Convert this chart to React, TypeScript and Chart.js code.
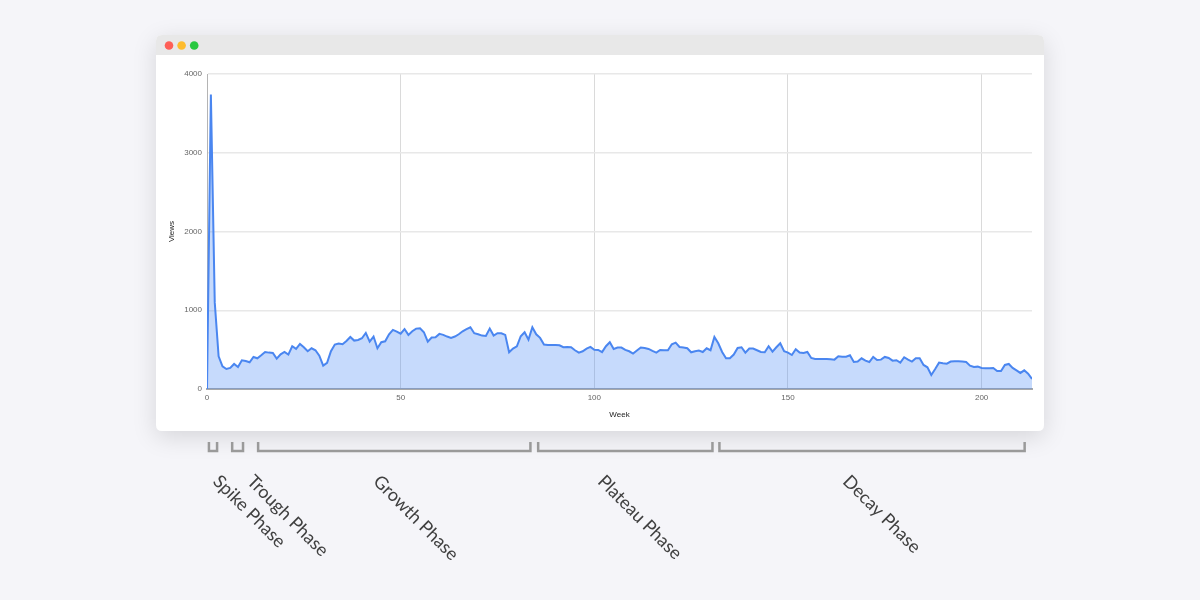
import React, { useEffect, useRef } from "react";
import { Chart, registerables } from "chart.js";

Chart.register(...registerables);

// Weekly views (week 0 .. 213)
const views: number[] = [
  0, 3740, 1100, 415, 288, 254, 267, 318, 280, 365,
  356, 339, 407, 390, 428, 470, 462, 458, 386, 441,
  470, 437, 543, 509, 572, 530, 479, 517, 492, 424,
  297, 331, 479, 564, 577, 568, 610, 661, 615, 623,
  644, 712, 602, 666, 517, 594, 606, 695, 750, 729,
  702, 761, 687, 733, 767, 772, 721, 602, 653, 657,
  700, 687, 666, 649, 666, 695, 733, 759, 784, 708,
  695, 678, 674, 767, 678, 708, 708, 687, 466, 513,
  543, 670, 721, 627, 784, 695, 649, 564, 560, 560,
  560, 555, 530, 534, 530, 492, 462, 479, 513, 534,
  498, 496, 468, 543, 594, 509, 526, 526, 496, 479,
  449, 488, 526, 521, 509, 483, 462, 496, 492, 492,
  568, 589, 534, 526, 517, 466, 479, 488, 470, 517,
  492, 661, 581, 470, 390, 390, 437, 521, 530, 462,
  513, 513, 492, 470, 466, 543, 475, 530, 581, 479,
  462, 432, 505, 462, 458, 470, 394, 382, 382, 382,
  382, 377, 373, 416, 411, 411, 428, 343, 348, 390,
  360, 343, 407, 369, 373, 407, 394, 360, 365, 335,
  403, 373, 348, 390, 390, 305, 276, 178, 254, 335,
  326, 322, 348, 352, 352, 348, 343, 297, 280, 284,
  267, 263, 263, 267, 229, 229, 305, 318, 267, 237,
  204, 237, 195, 127,
];
const weeks: number[] = views.map((_, i) => i);

const xTickValues = [0, 50, 100, 150, 200];
const yTickValues = [0, 1000, 2000, 3000, 4000];
const xTitle = "Week";
const yTitle = "Views";

// Phases (in weeks)
const phaseNames = ["Spike Phase", "Trough Phase", "Growth Phase", "Plateau Phase", "Decay Phase"];
const phaseStart = [0.5, 6.5, 13.2, 85.5, 132.3];
const phaseEnd = [2.6, 9.3, 83.5, 130.5, 211.1];
const phaseLabelAt = [4.0, 12.8, 45.4, 103.3, 166.6];

const PAGE_BG = "#f5f5f9";

function roundRect(ctx: CanvasRenderingContext2D, x: number, y: number, w: number, h: number, r: number) {
  ctx.beginPath();
  ctx.moveTo(x + r, y);
  ctx.lineTo(x + w - r, y);
  ctx.quadraticCurveTo(x + w, y, x + w, y + r);
  ctx.lineTo(x + w, y + h - r);
  ctx.quadraticCurveTo(x + w, y + h, x + w - r, y + h);
  ctx.lineTo(x + r, y + h);
  ctx.quadraticCurveTo(x, y + h, x, y + h - r);
  ctx.lineTo(x, y + r);
  ctx.quadraticCurveTo(x, y, x + r, y);
  ctx.closePath();
}

const windowPlugin = {
  id: "windowChrome",
  beforeDraw(chart: any) {
    const ctx: CanvasRenderingContext2D = chart.ctx;
    ctx.save();
    ctx.fillStyle = PAGE_BG;
    ctx.fillRect(0, 0, chart.width, chart.height);
    const x = 156, y = 35, w = 888, h = 396, r = 6;
    ctx.save();
    ctx.shadowColor = "rgba(0,0,0,0.13)";
    ctx.shadowBlur = 24;
    ctx.shadowOffsetY = 6;
    ctx.fillStyle = "#ffffff";
    roundRect(ctx, x, y, w, h, r);
    ctx.fill();
    ctx.restore();
    // title bar
    ctx.save();
    roundRect(ctx, x, y, w, h, r);
    ctx.clip();
    ctx.fillStyle = "#e8e8e8";
    ctx.fillRect(x, y, w, 20);
    ctx.restore();
    const dots = ["#fe5f57", "#febc2e", "#28c840"];
    dots.forEach((c, i) => {
      ctx.beginPath();
      ctx.arc(169 + i * 12.6, 45.5, 4.3, 0, Math.PI * 2);
      ctx.fillStyle = c;
      ctx.fill();
    });
    ctx.restore();
  },
};

const phasePlugin = {
  id: "phases",
  afterDraw(chart: any) {
    const ctx: CanvasRenderingContext2D = chart.ctx;
    const xs = chart.scales.x;
    const bottom = chart.chartArea.bottom;
    ctx.save();
    ctx.strokeStyle = "#9a9a9a";
    ctx.lineWidth = 2.5;
    ctx.lineJoin = "miter";
    for (let i = 0; i < phaseNames.length; i++) {
      const x1 = xs.getPixelForValue(phaseStart[i]);
      const x2 = xs.getPixelForValue(phaseEnd[i]);
      const yt = bottom + 53;
      const yb = bottom + 62;
      ctx.beginPath();
      ctx.moveTo(x1, yt);
      ctx.lineTo(x1, yb);
      ctx.lineTo(x2, yb);
      ctx.lineTo(x2, yt);
      ctx.stroke();
    }
    ctx.fillStyle = "#404040";
    ctx.font = "18px Lato, 'Open Sans', sans-serif";
    ctx.textAlign = "left";
    ctx.textBaseline = "top";
    for (let i = 0; i < phaseNames.length; i++) {
      const ax = xs.getPixelForValue(phaseLabelAt[i]);
      const ay = bottom + 83;
      ctx.save();
      ctx.translate(ax, ay);
      ctx.rotate(Math.PI / 4);
      ctx.fillText(phaseNames[i], 0, 0);
      ctx.restore();
    }
    ctx.restore();
  },
};

export default function App() {
  const ref = useRef<HTMLCanvasElement | null>(null);

  useEffect(() => {
    if (!ref.current) return;
    Chart.defaults.font.family = "'Liberation Sans', Arial, sans-serif";
    const chart = new Chart(ref.current, {
      type: "line",
      data: {
        datasets: [
          {
            label: yTitle,
            data: weeks.map((w, i) => ({ x: w, y: views[i] })),
            borderColor: "#4a86f0",
            borderWidth: 2,
            backgroundColor: "rgba(66,133,244,0.3)",
            fill: "origin",
            pointRadius: 0,
            tension: 0,
          },
        ],
      },
      options: {
        responsive: false,
        animation: false,
        events: [],
        layout: { padding: { left: 163, right: 168, top: 74, bottom: 176 } },
        plugins: { legend: { display: false }, tooltip: { enabled: false } },
        scales: {
          x: {
            type: "linear",
            min: 0,
            max: weeks[weeks.length - 1],
            afterFit: (s: any) => {
              s.height = 35;
            },
            afterBuildTicks: (s: any) => {
              s.ticks = xTickValues.map((v) => ({ value: v }));
            },
            ticks: {
              color: "#666",
              font: { size: 8 },
              padding: 4,
              maxRotation: 0,
              includeBounds: false,
              callback: (v: any) => String(v),
            },
            grid: { color: "#dadada", lineWidth: 1, drawTicks: false },
            border: { display: true, color: "#a8a8a8", width: 2 },
            title: { display: true, text: xTitle, color: "#222", font: { size: 8 }, padding: { top: 4, bottom: 4 } },
          },
          y: {
            type: "linear",
            min: 0,
            max: 4000,
            afterFit: (s: any) => {
              s.width = 44;
            },
            afterBuildTicks: (s: any) => {
              s.ticks = yTickValues.map((v) => ({ value: v }));
            },
            ticks: { color: "#666", font: { size: 8 }, padding: 5, callback: (v: any) => String(v) },
            grid: { color: "#e8e8e8", lineWidth: 1.5, drawTicks: false },
            border: { display: true, color: "#b4b4b4", width: 1 },
            title: { display: true, text: yTitle, color: "#222", font: { size: 8 }, padding: { top: 4, bottom: 4 } },
          },
        },
      },
      plugins: [windowPlugin, phasePlugin],
    });
    return () => chart.destroy();
  }, []);

  return (
    <div style={{ position: "fixed", left: 0, top: 0, width: 1200, height: 600, background: PAGE_BG }}>
      <canvas ref={ref} width={1200} height={600} style={{ display: "block", width: 1200, height: 600 }} />
    </div>
  );
}
